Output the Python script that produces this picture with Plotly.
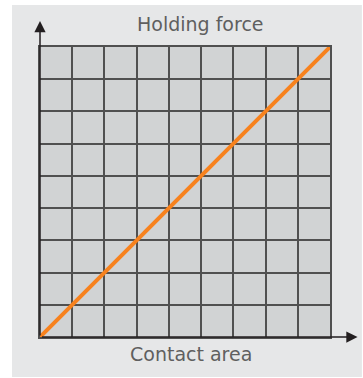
import plotly.graph_objects as go

# proportional relation: holding force grows with contact area
contact_area = [0, 9]
holding_force = [0, 9]
grid_ticks = list(range(0, 10))

x_title = "Contact area"
y_title = "Holding force"

fig = go.Figure()

fig.add_trace(go.Scatter(
    x=contact_area, y=holding_force,
    mode="lines",
    line=dict(color="#f7821e", width=4),
    hoverinfo="skip",
    showlegend=False,
))

axis_style = dict(
    range=[0, 9],
    tickvals=grid_ticks,
    showticklabels=False,
    showgrid=True,
    gridcolor="#505050",
    gridwidth=1.5,
    zeroline=False,
    showline=True,
    linecolor="#505050",
    linewidth=1.5,
    mirror=True,
    ticks="",
    fixedrange=True,
)

fig.update_xaxes(**axis_style)
fig.update_yaxes(**axis_style)

# light grey panel, then the darker cell area on top of it
fig.add_shape(type="rect", xref="paper", yref="paper",
              x0=-0.0966, x1=1.11, y0=-0.138, y1=1.145,
              fillcolor="#e6e7e8", line_width=0, layer="below")
fig.add_shape(type="rect", xref="paper", yref="paper",
              x0=0, x1=1, y0=0, y1=1,
              fillcolor="#d1d3d4", line_width=0, layer="below")

# axis arrows (tail offsets in pixels from the head)
arrow = dict(xref="paper", yref="paper", axref="pixel", ayref="pixel",
             text="", showarrow=True, arrowhead=2, arrowsize=1.5,
             arrowwidth=1.5, arrowcolor="#231f20")
fig.add_annotation(x=0, y=1.09, ax=0, ay=316, **arrow)
fig.add_annotation(x=1.095, y=0, ax=-317, ay=0, **arrow)

# axis titles
fig.add_annotation(x=0.553, y=1.078, xref="paper", yref="paper",
                   yanchor="middle", text=y_title, showarrow=False,
                   font=dict(size=19, color="#5f5f5f"))
fig.add_annotation(x=0.519, y=-0.057, xref="paper", yref="paper",
                   yanchor="middle", text=x_title, showarrow=False,
                   font=dict(size=19, color="#5f5f5f"))

fig.update_layout(
    width=363, height=378,
    margin=dict(l=40, r=33, t=47, b=41),
    paper_bgcolor="white",
    plot_bgcolor="rgba(0,0,0,0)",
    font=dict(family="DejaVu Sans, sans-serif"),
)

fig.write_html("out.html", config={"displayModeBar": False},
               post_script="document.body.style.margin='0';")
